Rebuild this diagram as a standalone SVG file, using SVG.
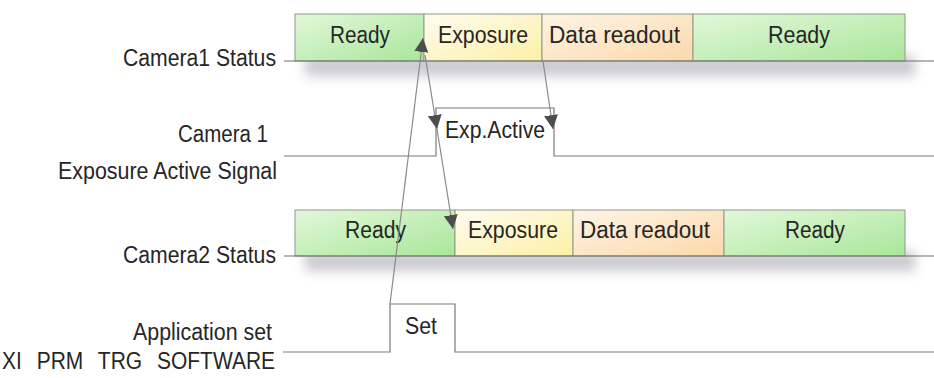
<svg xmlns="http://www.w3.org/2000/svg" width="934" height="378" viewBox="0 0 934 378">
<defs>
<linearGradient id="gReady" x1="0" y1="0" x2="1" y2="1"><stop offset="0" stop-color="#e2f8da"/><stop offset="1" stop-color="#a9e69a"/></linearGradient>
<linearGradient id="gExp" x1="0" y1="0" x2="1" y2="1"><stop offset="0" stop-color="#fffbef"/><stop offset="1" stop-color="#fcf0a6"/></linearGradient>
<linearGradient id="gData" x1="0" y1="0" x2="1" y2="1"><stop offset="0" stop-color="#fff4e6"/><stop offset="1" stop-color="#fbd9aa"/></linearGradient>
<filter id="blur" x="-10%" y="-100%" width="120%" height="300%"><feGaussianBlur stdDeviation="6"/></filter>
<marker id="ah" markerUnits="userSpaceOnUse" markerWidth="15" markerHeight="15" refX="14" refY="7" orient="auto"><path d="M0,0 L14,7 L0,14 z" fill="#4d4d4d"/></marker>
</defs>
<style>
text{font-family:"Liberation Sans",Arial,sans-serif;font-size:23px;fill:#262626}
.c{text-anchor:middle}
.r{text-anchor:end}
.box{stroke:#8e9a88;stroke-width:1}
.base{stroke:#6f6f6f;stroke-width:1.2;fill:none}
.sig{stroke:#7a7a7a;stroke-width:1.2;fill:none}
.conn{stroke:#8a8a8a;stroke-width:1.2;fill:none}
.shadow{fill:#8a8a96;opacity:0.45;filter:url(#blur)}
</style>

<rect class="shadow" x="305" y="56" width="610" height="20"/>
<rect class="shadow" x="305" y="251" width="610" height="20"/>

<g id="labels">
<text x="123" y="66" textLength="153" lengthAdjust="spacingAndGlyphs">Camera1 Status</text>
<text x="178" y="142" textLength="90" lengthAdjust="spacingAndGlyphs">Camera 1</text>
<text x="58" y="179" textLength="219" lengthAdjust="spacingAndGlyphs">Exposure Active Signal</text>
<text x="123" y="263" textLength="153" lengthAdjust="spacingAndGlyphs">Camera2 Status</text>
<text x="133" y="340" textLength="139" lengthAdjust="spacingAndGlyphs">Application set</text>
<text x="2" y="369" textLength="273" lengthAdjust="spacingAndGlyphs" word-spacing="10">XI PRM TRG SOFTWARE</text>
</g>

<g id="cam1">
<g id="cam1-ready1"><rect class="box" x="295" y="14" width="129" height="47" fill="url(#gReady)"/><text x="330" y="43" textLength="60" lengthAdjust="spacingAndGlyphs">Ready</text></g>
<g id="cam1-exposure"><rect class="box" x="424" y="14" width="118" height="47" fill="url(#gExp)"/><text x="438" y="43" textLength="90" lengthAdjust="spacingAndGlyphs">Exposure</text></g>
<g id="cam1-readout"><rect class="box" x="542" y="14" width="151" height="47" fill="url(#gData)"/><text x="549" y="43" textLength="131" lengthAdjust="spacingAndGlyphs">Data readout</text></g>
<g id="cam1-ready2"><rect class="box" x="693" y="14" width="212" height="47" fill="url(#gReady)"/><text x="768" y="43" textLength="62" lengthAdjust="spacingAndGlyphs">Ready</text></g>
<path class="base" d="M284,61 H934"/>
</g>

<g id="cam1-expactive">
<path class="sig" d="M284,156 H436 V108 H554 V156 H934"/>
<text x="445" y="138" textLength="100" lengthAdjust="spacingAndGlyphs">Exp.Active</text>
</g>

<g id="cam2">
<g id="cam2-ready1"><rect class="box" x="295" y="210" width="160" height="46" fill="url(#gReady)"/><text x="345" y="238" textLength="61" lengthAdjust="spacingAndGlyphs">Ready</text></g>
<g id="cam2-exposure"><rect class="box" x="455" y="210" width="118" height="46" fill="url(#gExp)"/><text x="468" y="238" textLength="90" lengthAdjust="spacingAndGlyphs">Exposure</text></g>
<g id="cam2-readout"><rect class="box" x="573" y="210" width="151" height="46" fill="url(#gData)"/><text x="580" y="238" textLength="130" lengthAdjust="spacingAndGlyphs">Data readout</text></g>
<g id="cam2-ready2"><rect class="box" x="724" y="210" width="181" height="46" fill="url(#gReady)"/><text x="785" y="238" textLength="60" lengthAdjust="spacingAndGlyphs">Ready</text></g>
<path class="base" d="M284,256 H934"/>
</g>

<g id="appset">
<path class="sig" d="M283,352 H390 V304 H455 V352 H934"/>
<text x="405" y="334" textLength="32" lengthAdjust="spacingAndGlyphs">Set</text>
</g>

<g id="connectors">
<path class="conn" d="M390,304 L423,38" marker-end="url(#ah)"/>
<path class="conn" d="M425,55 L437,129" marker-end="url(#ah)"/>
<path class="conn" d="M437,129 L453,229" marker-end="url(#ah)"/>
<path class="conn" d="M543,61 L553,129" marker-end="url(#ah)"/>
</g>
</svg>
